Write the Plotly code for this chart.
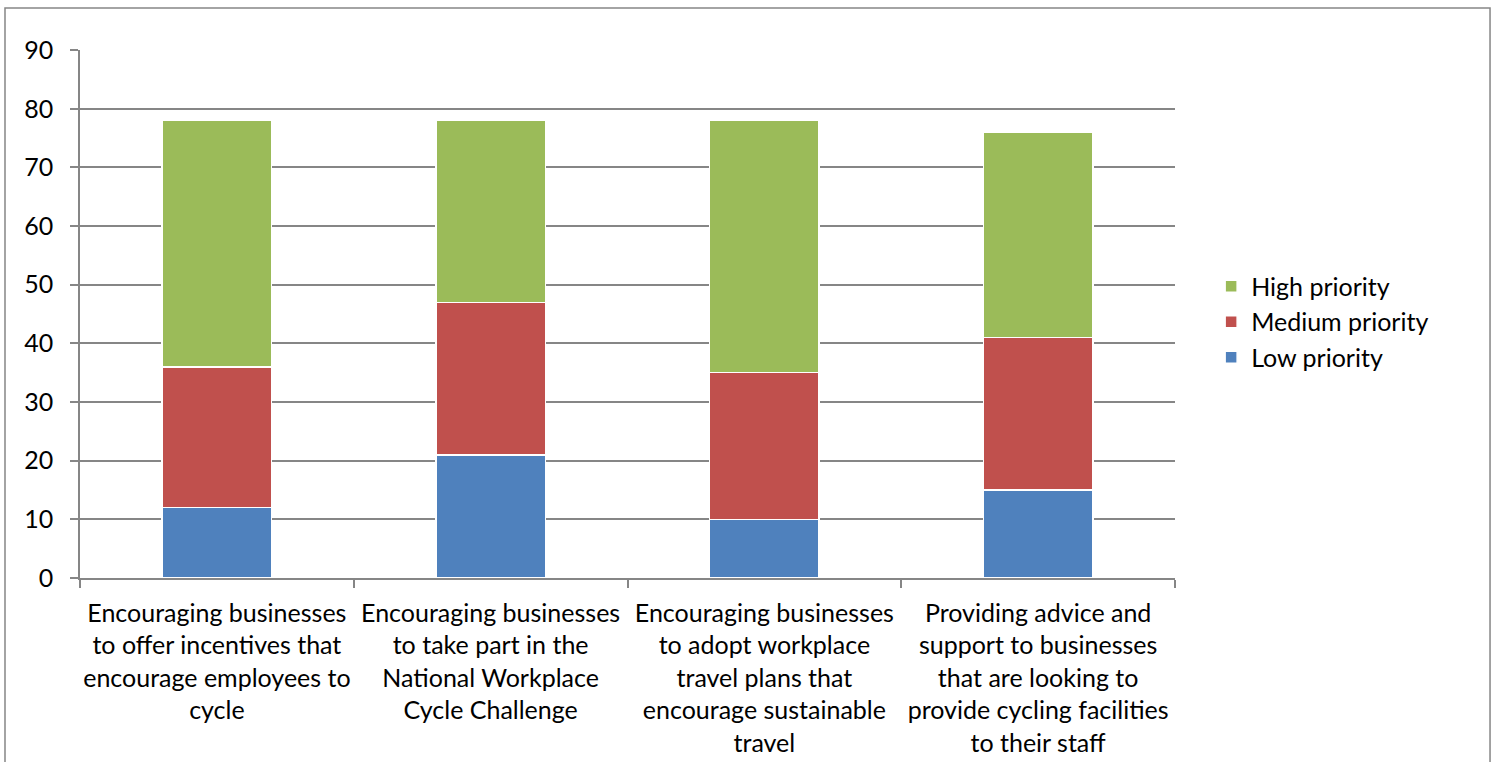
import plotly.graph_objects as go

categories = [
    "Encouraging businesses<br>to offer incentives that<br>encourage employees to<br>cycle",
    "Encouraging businesses<br>to take part in the<br>National Workplace<br>Cycle Challenge",
    "Encouraging businesses<br>to adopt workplace<br>travel plans that<br>encourage sustainable<br>travel",
    "Providing advice and<br>support to businesses<br>that are looking to<br>provide cycling facilities<br>to their staff",
]
low = [12, 21, 10, 15]
medium = [24, 26, 25, 26]
high = [42, 31, 43, 35]
y_ticks = [0, 10, 20, 30, 40, 50, 60, 70, 80, 90]

FONT = "Lato"
fig = go.Figure()
for name, vals, col in [("Low priority", low, "#4F81BD"),
                        ("Medium priority", medium, "#C0504D"),
                        ("High priority", high, "#9BBB59")]:
    fig.add_trace(go.Bar(x=categories, y=vals, name=name, marker_color=col,
                         marker_line=dict(color="white", width=1.5)))

fig.update_layout(
    barmode="stack",
    bargap=0.6,
    width=1493, height=762,
    margin=dict(l=80, r=318, t=50, b=184, autoexpand=False),
    paper_bgcolor="white", plot_bgcolor="white",
    font=dict(family=FONT, size=25, color="black"),
    legend=dict(traceorder="reversed", x=1.033, y=0.485, yanchor="middle",
                xanchor="left", font=dict(size=25), tracegroupgap=0),
    showlegend=True,
)
fig.update_xaxes(showline=True, linecolor="#868686", linewidth=1.5,
                 ticks="outside", tickson="boundaries", ticklen=8,
                 tickcolor="#868686", tickwidth=1.5, showgrid=False,
                 automargin=False, ticklabelstandoff=12, tickangle=0,
                 tickfont=dict(size=25))
fig.update_yaxes(range=[0, 90.02], tickvals=y_ticks, showline=True,
                 linecolor="#868686", linewidth=1.5, ticks="outside",
                 ticklen=8, tickcolor="#868686", tickwidth=1.5,
                 showgrid=True, gridcolor="#868686", gridwidth=1.5,
                 zeroline=False, automargin=False, ticklabelstandoff=12,
                 tickfont=dict(size=25))
fig.add_shape(type="rect", xref="paper", yref="paper",
              x0=-0.0685, x1=1.2877, y0=-0.5, y1=1.0795,
              line=dict(color="#868686", width=1.5), fillcolor="rgba(0,0,0,0)",
              layer="below")
fig.write_html("out.html", config={"displayModeBar": False},
               post_script="document.body.style.margin='0';")
